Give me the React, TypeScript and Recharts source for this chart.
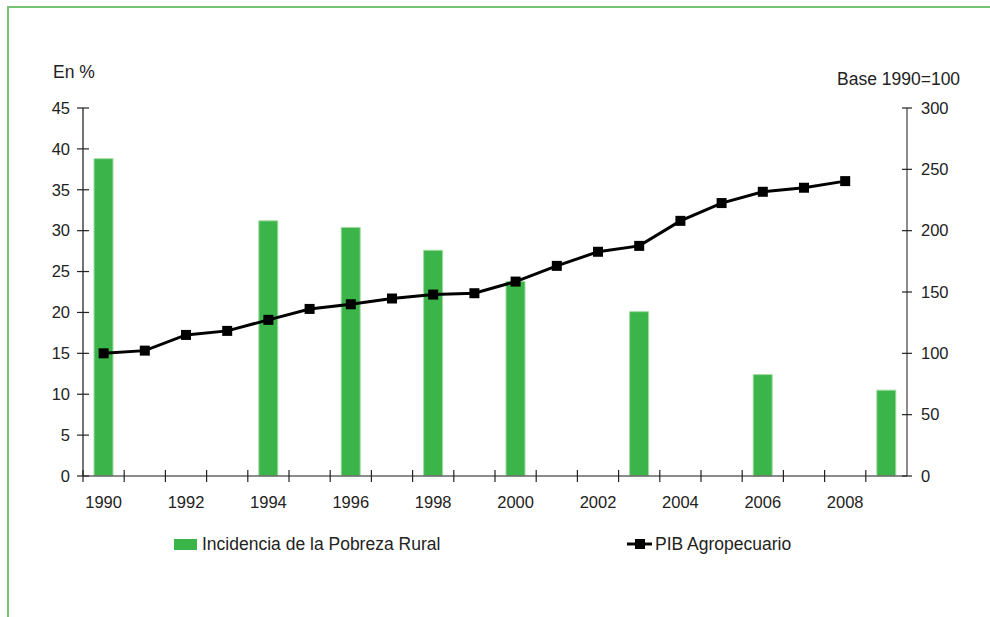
import {
  Bar,
  ComposedChart,
  Label,
  Legend,
  Line,
  XAxis,
  YAxis,
} from 'recharts';

const years = [
  '1990', '1991', '1992', '1993', '1994', '1995', '1996', '1997', '1998', '1999',
  '2000', '2001', '2002', '2003', '2004', '2005', '2006', '2007', '2008', '2009',
];
const pobrezaRural = [
  38.8, null, null, null, 31.2, null, 30.4, null, 27.6, null,
  23.8, null, null, 20.1, null, null, 12.4, null, null, 10.5,
];
const pibAgro = [
  100, 102.2, 115, 118.3, 127.3, 136.2, 140, 144.7, 147.9, 149,
  158.5, 171.3, 182.8, 187.6, 208, 222.5, 231.7, 235, 240.4, null,
];
const leftTicks = [0, 5, 10, 15, 20, 25, 30, 35, 40, 45];
const rightTicks = [0, 50, 100, 150, 200, 250, 300];

const data = years.map((year, i) => ({
  year,
  pobreza: pobrezaRural[i],
  pib: pibAgro[i],
}));

const FONT = '"Liberation Sans", Arial, sans-serif';
const GREEN = '#3bb44a';
const W = 990;
const H = 617;
const MARGIN = { top: 108, right: 20, bottom: 101, left: 20 };
const Y_W = 63;
const BAND = (W - MARGIN.left - MARGIN.right - 2 * Y_W) / years.length;

function LeftTick(props: any) {
  const { x, y, payload } = props;
  const ax = x + 13;
  return (
    <g>
      <line x1={ax - 6} x2={ax + 6} y1={y} y2={y} stroke="#222" strokeWidth={1.2} />
      <text x={x} y={y} dy="0.35em" textAnchor="end" fontSize={16.5} fill="#222" fontFamily={FONT}>
        {payload.value}
      </text>
    </g>
  );
}

function RightTick(props: any) {
  const { x, y, payload } = props;
  const ax = x - 14;
  return (
    <g>
      <line x1={ax - 5} x2={ax + 5} y1={y} y2={y} stroke="#222" strokeWidth={1.2} />
      <text x={x} y={y} dy="0.35em" textAnchor="start" fontSize={16.5} fill="#222" fontFamily={FONT}>
        {payload.value}
      </text>
    </g>
  );
}

function YearTick(props: any) {
  const { x, y, payload, index } = props;
  const ay = y - 20;
  const half = payload.offset || BAND / 2;
  return (
    <g>
      <line x1={x - half} x2={x - half} y1={ay - 6} y2={ay + 6} stroke="#222" strokeWidth={1.2} />
      {index % 2 === 0 ? (
        <text x={x} y={y} dy="0.71em" textAnchor="middle" fontSize={16.5} fill="#222" fontFamily={FONT}>
          {payload.value}
        </text>
      ) : null}
    </g>
  );
}

function SquareDot(props: any) {
  const { cx, cy } = props;
  if (cx == null || cy == null) return null;
  return <rect x={cx - 5} y={cy - 5} width={10} height={10} fill="#000" />;
}

function LegendContent() {
  const text = { fontFamily: FONT, fontSize: 17.5, color: '#222', lineHeight: '20px' };
  return (
    <div style={{ position: 'relative', height: 20 }}>
      <div style={{ position: 'absolute', left: 174, top: 0, display: 'flex', alignItems: 'center' }}>
        <span style={{ display: 'inline-block', width: 23, height: 11, background: GREEN, marginRight: 5 }} />
        <span style={text}>Incidencia de la Pobreza Rural</span>
      </div>
      <div style={{ position: 'absolute', left: 627, top: 0, display: 'flex', alignItems: 'center' }}>
        <svg width={25} height={12} style={{ marginRight: 3 }}>
          <line x1={0} x2={25} y1={6} y2={6} stroke="#000" strokeWidth={3} />
          <rect x={8} y={1} width={10} height={10} fill="#000" />
        </svg>
        <span style={text}>PIB Agropecuario</span>
      </div>
    </div>
  );
}

export default function App() {
  return (
    <div style={{ position: 'absolute', left: 0, top: 0, width: W, height: H, background: '#fff' }}>
      <div
        style={{
          position: 'absolute',
          left: 7,
          top: 6,
          width: W - 7,
          height: H - 6,
          borderTop: '2px solid #74c274',
          borderLeft: '2px solid #74c274',
          boxSizing: 'border-box',
        }}
      />
      <div style={{ position: 'absolute', left: 0, top: 0 }}>
        <ComposedChart width={W} height={H} data={data} margin={MARGIN} barCategoryGap={0}>
          <XAxis
            dataKey="year"
            interval={0}
            height={40}
            tickSize={0}
            tickMargin={20}
            tickLine={false}
            tick={YearTick}
            stroke="#666"
            strokeWidth={1.5}
          />
          <YAxis
            yAxisId="left"
            width={Y_W}
            domain={[0, 45]}
            ticks={leftTicks}
            interval={0}
            tickSize={0}
            tickMargin={13}
            tickLine={false}
            tick={LeftTick}
            stroke="#444"
            strokeWidth={1.5}
          >
            <Label
              content={(p: any) => (
                <text x={p.viewBox.x + 33} y={p.viewBox.y - 30} fontSize={17.5} fill="#222" fontFamily={FONT}>
                  En %
                </text>
              )}
            />
          </YAxis>
          <YAxis
            yAxisId="right"
            orientation="right"
            width={Y_W}
            domain={[0, 300]}
            ticks={rightTicks}
            interval={0}
            tickSize={0}
            tickMargin={14}
            tickLine={false}
            tick={RightTick}
            stroke="#666"
            strokeWidth={1.5}
          >
            <Label
              content={(p: any) => (
                <text x={p.viewBox.x - 70} y={p.viewBox.y - 23} fontSize={17.5} fill="#222" fontFamily={FONT}>
                  Base 1990=100
                </text>
              )}
            />
          </YAxis>
          <Bar
            yAxisId="left"
            dataKey="pobreza"
            name="Incidencia de la Pobreza Rural"
            fill={GREEN}
            stroke="#a3dba3"
            strokeWidth={1}
            barSize={19}
            isAnimationActive={false}
          />
          <Line
            yAxisId="right"
            dataKey="pib"
            name="PIB Agropecuario"
            stroke="#000"
            strokeWidth={3}
            dot={SquareDot}
            activeDot={false}
            connectNulls={false}
            isAnimationActive={false}
          />
          <Legend
            layout="horizontal"
            verticalAlign="middle"
            content={LegendContent}
            wrapperStyle={{ top: 534, left: 0, width: W, height: 20 }}
          />
        </ComposedChart>
      </div>
    </div>
  );
}
